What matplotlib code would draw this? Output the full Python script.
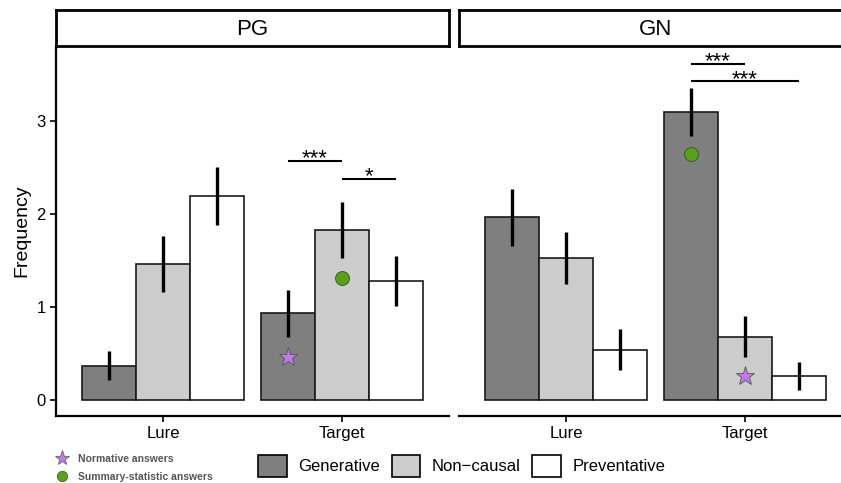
import numpy as np
import matplotlib
matplotlib.use("Agg")
import matplotlib.pyplot as plt
from matplotlib.patches import Patch
from matplotlib.lines import Line2D

plt.rcParams["font.family"] = ["Liberation Sans", "DejaVu Sans"]

items = ["Lure", "Target"]
conditions = ["Generative", "Non\u2212causal", "Preventative"]
fills = ["#7f7f7f", "#cccccc", "#ffffff"]

# frequency means and error half-widths, one list per item (Generative, Non-causal, Preventative)
pg_lure = [0.37, 1.46, 2.19]
pg_lure_err = [0.16, 0.30, 0.31]
pg_target = [0.93, 1.82, 1.28]
pg_target_err = [0.25, 0.30, 0.27]
gn_lure = [1.96, 1.52, 0.54]
gn_lure_err = [0.31, 0.28, 0.22]
gn_target = [3.09, 0.68, 0.26]
gn_target_err = [0.26, 0.22, 0.15]

# reference answers on the Target item: (condition index, value)
pg_normative = (0, 0.46)
pg_summary = (1, 1.31)
gn_normative = (1, 0.26)
gn_summary = (0, 2.64)

# significance brackets: (from condition, to condition, height, label)
pg_sig = [(0, 1, 2.57, "***"), (1, 2, 2.37, "*")]
gn_sig = [(0, 1, 3.61, "***"), (0, 2, 3.42, "***")]

panels = [
    ("PG", [pg_lure, pg_target], [pg_lure_err, pg_target_err], pg_normative, pg_summary, pg_sig),
    ("GN", [gn_lure, gn_target], [gn_lure_err, gn_target_err], gn_normative, gn_summary, gn_sig),
]

W, H = 841, 483
fig = plt.figure(figsize=(W / 100, H / 100), dpi=100)

bw = 0.3
offsets = np.array([-bw, 0, bw])
xc = np.arange(1, len(items) + 1)

lefts = [56, 459]
pw = 393
for k, (name, means, errs, norm, summ, sig) in enumerate(panels):
    ax = fig.add_axes([lefts[k] / W, (H - 416) / H, pw / W, 370 / H])
    for i in range(len(items)):
        for j in range(len(conditions)):
            x = xc[i] + offsets[j]
            ax.bar(x, means[i][j], width=bw, color=fills[j], edgecolor="#1a1a1a", linewidth=1.2, zorder=2)
            ax.plot([x, x], [means[i][j] - errs[i][j], means[i][j] + errs[i][j]],
                    color="black", lw=2.4, solid_capstyle="butt", zorder=3)
    ax.plot(xc[1] + offsets[norm[0]], norm[1], marker="*", ms=14, color="#c07be8",
            mec="#555555", mew=0.6, zorder=4, ls="none")
    ax.plot(xc[1] + offsets[summ[0]], summ[1], marker="o", ms=10, color="#5aa01e",
            mec="#2e5a0c", mew=0.6, zorder=4, ls="none")
    for a, b, h, lab in sig:
        x0 = xc[1] + offsets[a]
        x1 = xc[1] + offsets[b]
        ax.plot([x0, x1], [h, h], color="black", lw=1.5, solid_capstyle="butt")
        ax.text((x0 + x1) / 2, h - 0.09, lab, ha="center", va="bottom", fontsize=16)

    ax.set_xlim(0.402, 2.598)
    ax.set_ylim(-0.172, 3.80)
    ax.set_xticks(xc)
    ax.set_xticklabels(items, fontsize=12)
    ax.tick_params(axis="x", length=4, width=1.2, pad=3, colors="black")
    for s in ["top", "right"]:
        ax.spines[s].set_visible(False)
    ax.spines["bottom"].set_linewidth(1.6)
    ax.spines["left"].set_linewidth(1.6)
    if k == 0:
        ax.set_yticks([0, 1, 2, 3])
        ax.tick_params(axis="y", labelsize=12, length=4, width=1.2)
        ax.set_ylabel("Frequency", fontsize=14, labelpad=4)
    else:
        ax.spines["left"].set_visible(False)
        ax.set_yticks([])

    sx = fig.add_axes([lefts[k] / W, (H - 46) / H, pw / W, 36 / H])
    sx.set_xticks([])
    sx.set_yticks([])
    for s in sx.spines.values():
        s.set_linewidth(2.0)
    sx.text(0.5, 0.45, name, ha="center", va="center", fontsize=16, transform=sx.transAxes)

handles = [Patch(facecolor=c, edgecolor="black", linewidth=1.2) for c in fills]
fig.legend(handles, conditions, loc="center left", bbox_to_anchor=(250 / W, 1 - 466 / H),
           ncol=3, frameon=False, fontsize=12, handlelength=1.7, handleheight=1.6,
           handletextpad=0.7, columnspacing=0.7, borderpad=0)

marks = [
    Line2D([], [], marker="*", ls="none", ms=11, color="#c07be8", mec="#555555", mew=0.5),
    Line2D([], [], marker="o", ls="none", ms=7.5, color="#5aa01e", mec="#2e5a0c", mew=0.5),
]
leg2 = fig.legend(marks, ["Normative answers", "Summary-statistic answers"], loc="center left",
                  bbox_to_anchor=(46 / W, 1 - 468 / H), frameon=False,
                  prop={"size": 7.5, "weight": "bold"}, handletextpad=0.6,
                  labelspacing=0.75, borderpad=0)
for t in leg2.get_texts():
    t.set_color("#555555")

fig.savefig("out.png", dpi=100)
